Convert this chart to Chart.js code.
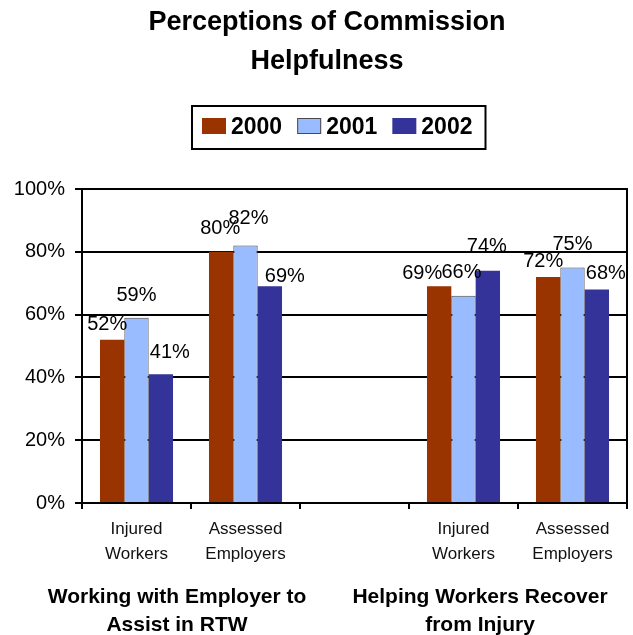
<!DOCTYPE html>
<html>
<head>
<meta charset="utf-8">
<script src="https://cdn.jsdelivr.net/npm/chart.js@4/dist/chart.umd.min.js"></script>
<style>
  html, body { margin: 0; padding: 0; background: #ffffff; }
  #wrap { width: 633px; height: 635px; }
</style>
</head>
<body>
<div id="wrap"><canvas id="c" width="633" height="635"></canvas></div>
<script>
// Survey results: share of respondents rating the Commission as helpful
const categories = [["Injured", "Workers"], ["Assessed", "Employers"], "", ["Injured", "Workers"], ["Assessed", "Employers"]];
const seriesNames = ["2000", "2001", "2002"];
const values2000 = [52, 80, null, 69, 72];
const values2001 = [59, 82, null, 66, 75];
const values2002 = [41, 69, null, 74, 68];
const yTicks = [0, 20, 40, 60, 80, 100];
const chartTitle = ["Perceptions of Commission", "Helpfulness"];
const groupTitles = [["Working with Employer to", "Assist in RTW"], ["Helping Workers Recover", "from Injury"]];

// Styling
const FONT = "'Liberation Sans', Arial, Helvetica, sans-serif";
const seriesColors = ["#993300", "#99BBFF", "#333399"];
const seriesBorders = ["#993300", "#4a4a4a", "#333399"];
const seriesBorderWidths = [0, 1, 0];

// Per-label nudges (dx, dy from the top centre of each bar) for the value labels
const labelNudges = [
  [[-5, -15], [-1, -23], null, [-17, -13], [-5, -15]],
  [[0, -22], [3, -27], null, [-2, -23], [0, -23]],
  [[9, -22], [15, -10], null, [-1, -24], [9, -16]]
];

const titlePlugin = {
  id: 'titleAndGroups',
  afterDraw(chart) {
    const ctx = chart.ctx;
    ctx.save();
    ctx.fillStyle = '#000';
    ctx.textAlign = 'center';
    ctx.textBaseline = 'alphabetic';
    ctx.font = 'bold 27px ' + FONT;
    ctx.fillText(chartTitle[0], 327, 30);
    ctx.fillText(chartTitle[1], 327, 69);

    // group captions under the category labels
    ctx.textBaseline = 'middle';
    ctx.font = 'bold 21px ' + FONT;
    const groupX = [177, 480];
    groupTitles.forEach((lines, g) => {
      lines.forEach((t, i) => ctx.fillText(t, groupX[g], 597 + i * 28));
    });
    ctx.restore();
  }
};

const legendPlugin = {
  id: 'boxedLegend',
  afterDraw(chart) {
    const ctx = chart.ctx;
    ctx.save();
    ctx.font = 'bold 23px ' + FONT;
    const sw = 24, sh = 16, gap = 5, spacing = 15, padL = 10, padR = 13;
    const widths = seriesNames.map(n => sw + gap + ctx.measureText(n).width);
    const inner = widths.reduce((a, b) => a + b, 0) + spacing * (widths.length - 1);
    const boxW = padL + inner + padR;
    const cx = 338.5;
    const left = Math.round(cx - boxW / 2);
    const top = 106, boxH = 43;
    ctx.lineWidth = 2;
    ctx.strokeStyle = '#000';
    ctx.strokeRect(left, top, boxW, boxH);
    let x = left + padL;
    ctx.textAlign = 'left';
    ctx.textBaseline = 'alphabetic';
    seriesNames.forEach((n, i) => {
      ctx.fillStyle = seriesColors[i];
      ctx.fillRect(x, 118, sw, sh);
      if (seriesBorderWidths[i] > 0) {
        ctx.lineWidth = 1;
        ctx.strokeStyle = seriesBorders[i];
        ctx.strokeRect(x + 0.5, 118.5, sw - 1, sh - 1);
      }
      ctx.fillStyle = '#000';
      ctx.fillText(n, x + sw + gap, 134);
      x += widths[i] + spacing;
    });
    ctx.restore();
  }
};

const valueLabelPlugin = {
  id: 'valueLabels',
  afterDatasetsDraw(chart) {
    const ctx = chart.ctx;
    ctx.save();
    ctx.font = '20px ' + FONT;
    ctx.fillStyle = '#000';
    ctx.textAlign = 'center';
    ctx.textBaseline = 'middle';
    chart.data.datasets.forEach((ds, di) => {
      const meta = chart.getDatasetMeta(di);
      meta.data.forEach((bar, i) => {
        const v = ds.data[i];
        if (v === null || v === undefined) return;
        const n = labelNudges[di][i] || [0, -18];
        ctx.fillText(v + '%', bar.x + n[0], bar.y + n[1]);
      });
    });
    ctx.restore();
  }
};

const frameRightPlugin = {
  id: 'frameRight',
  afterDraw(chart) {
    const a = chart.chartArea, ctx = chart.ctx;
    ctx.save();
    ctx.strokeStyle = '#000';
    ctx.lineWidth = 2;
    ctx.beginPath();
    ctx.moveTo(a.right, a.top - 1);
    ctx.lineTo(a.right, a.bottom);
    ctx.stroke();
    ctx.restore();
  }
};

const allValues = [values2000, values2001, values2002];

new Chart(document.getElementById('c'), {
  type: 'bar',
  data: {
    labels: categories,
    datasets: seriesNames.map((name, i) => ({
      label: name,
      data: allValues[i],
      backgroundColor: seriesColors[i],
      borderColor: seriesBorders[i],
      borderWidth: seriesBorderWidths[i],
      barPercentage: 1.0,
      categoryPercentage: 0.67
    }))
  },
  options: {
    responsive: false,
    animation: false,
    devicePixelRatio: 1,
    layout: { padding: { top: 189, right: 6, left: 0, bottom: 0 } },
    plugins: {
      legend: { display: false },
      title: { display: false },
      tooltip: { enabled: false }
    },
    scales: {
      x: {
        grid: { display: true, drawOnChartArea: false, drawTicks: true, tickLength: 6, color: '#000', lineWidth: 2, offset: true },
        border: { display: true, color: '#000', width: 2 },
        ticks: { color: '#111', font: { family: FONT, size: 17, lineHeight: 1.47 }, padding: 8, maxRotation: 0, autoSkip: false },
        afterFit(scale) { scale.height = 132; }
      },
      y: {
        min: 0,
        max: 100,
        afterBuildTicks(scale) { scale.ticks = yTicks.map(v => ({ value: v })); },
        grid: { color: '#000', lineWidth: 2, drawTicks: true, tickLength: 7 },
        border: { display: true, color: '#000', width: 2 },
        ticks: { color: '#000', font: { family: FONT, size: 20 }, padding: 10, callback: v => v + '%' },
        afterFit(scale) { scale.width = 82; }
      }
    }
  },
  plugins: [valueLabelPlugin, frameRightPlugin, legendPlugin, titlePlugin]
});
</script>
</body>
</html>
